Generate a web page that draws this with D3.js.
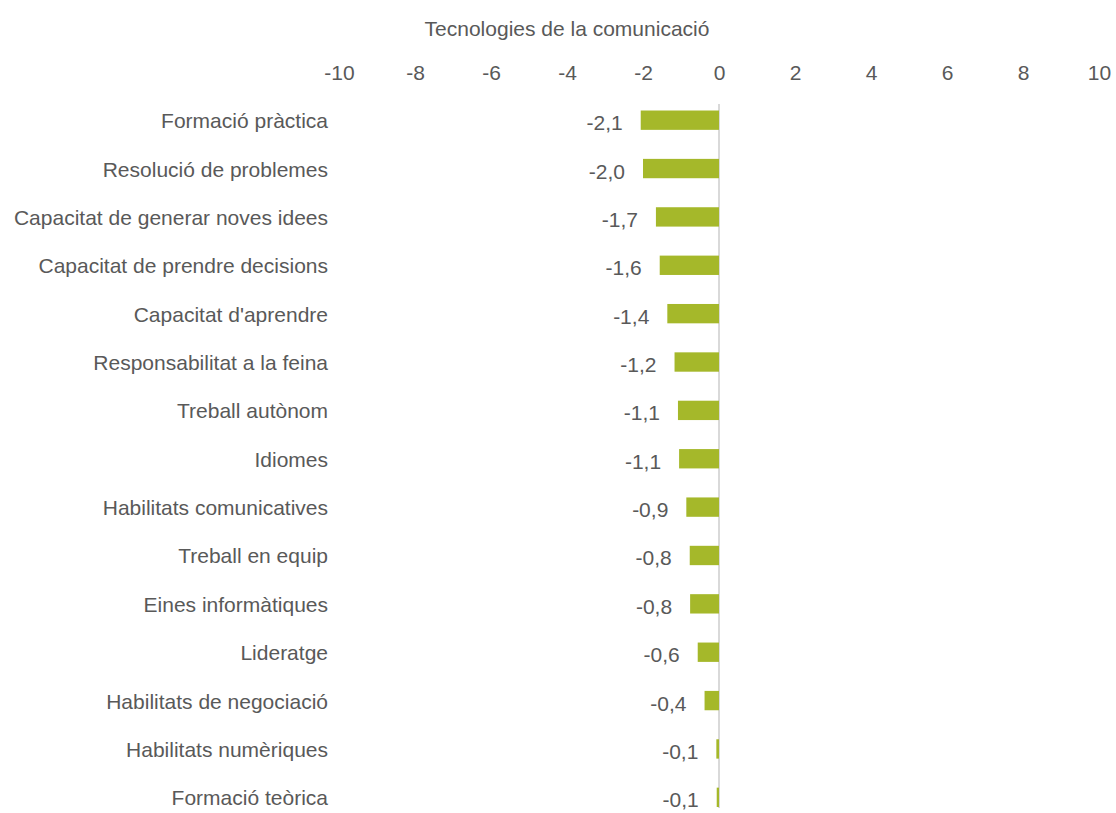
<!DOCTYPE html>
<html lang="ca">
<head>
  <meta charset="UTF-8">
  <title>Tecnologies de la comunicació</title>
  <style>
    body { margin: 0; background: #fff; }
    svg text { font-family: "Liberation Sans", Arial, sans-serif; fill: #595959; }
  </style>
</head>
<body>
  <div id="chart"></div>
  <script src="https://d3js.org/d3.v7.min.js"></script>
  <script>
    const categories = [
      'Formació pràctica',
      'Resolució de problemes',
      'Capacitat de generar noves idees',
      'Capacitat de prendre decisions',
      "Capacitat d'aprendre",
      'Responsabilitat a la feina',
      'Treball autònom',
      'Idiomes',
      'Habilitats comunicatives',
      'Treball en equip',
      'Eines informàtiques',
      'Lideratge',
      'Habilitats de negociació',
      'Habilitats numèriques',
      'Formació teòrica'
    ];
    const values = [-2.06, -2.0, -1.66, -1.56, -1.36, -1.17, -1.08, -1.05, -0.86, -0.77, -0.76, -0.56, -0.38, -0.07, -0.06];
    const xTicks = [-10, -8, -6, -4, -2, 0, 2, 4, 6, 8, 10];
    const title = 'Tecnologies de la comunicació';

    const WIDTH = 1116;
    const HEIGHT = 813;
    const FONT = 21;
    const margin = {top: 96, left: 339};

    const svg = d3.select('#chart').append('svg')
      .attr('width', WIDTH)
      .attr('height', HEIGHT);

    const xScale = d3.scaleLinear().domain([-10, 10]).range([0, 760]);
    const yScale = d3.scaleBand()
      .domain(categories)
      .range([0, 725.5])
      .paddingInner(0.6)
      .paddingOuter(0.3);

    const g = svg.append('g').attr('transform', `translate(${margin.left},${margin.top})`);

    // title
    svg.append('text')
      .attr('x', 567)
      .attr('y', 36)
      .attr('text-anchor', 'middle')
      .attr('font-size', FONT)
      .text(title);

    // top axis, labels only
    const xAxis = d3.axisTop(xScale).tickValues(xTicks).tickSize(0).tickPadding(0)
      .tickFormat(d => String(d));
    const axisG = g.append('g').attr('transform', 'translate(0,-16)').call(xAxis);
    axisG.select('.domain').remove();
    axisG.attr('font-size', null).attr('font-family', null);
    axisG.selectAll('text')
      .attr('font-size', FONT)
      .attr('fill', '#595959');

    // zero line
    g.append('line')
      .attr('x1', xScale(0)).attr('x2', xScale(0))
      .attr('y1', 8).attr('y2', 712)
      .attr('stroke', '#d9d9d9')
      .attr('stroke-width', 2);

    // bars
    g.selectAll('rect.bar')
      .data(values)
      .enter()
      .append('rect')
      .attr('class', 'bar')
      .attr('x', d => xScale(Math.min(0, d)))
      .attr('width', d => Math.abs(xScale(d) - xScale(0)))
      .attr('y', (d, i) => yScale(categories[i]))
      .attr('height', yScale.bandwidth())
      .attr('fill', '#a5b82a');

    // value labels
    g.selectAll('text.val')
      .data(values)
      .enter()
      .append('text')
      .attr('class', 'val')
      .attr('x', d => xScale(d) - 18)
      .attr('y', (d, i) => yScale(categories[i]) + yScale.bandwidth() / 2 + 10)
      .attr('text-anchor', 'end')
      .attr('font-size', FONT)
      .text(d => d.toFixed(1).replace('.', ','));

    // category labels
    g.selectAll('text.cat')
      .data(categories)
      .enter()
      .append('text')
      .attr('class', 'cat')
      .attr('x', -11)
      .attr('y', d => yScale(d) + yScale.bandwidth() / 2 + 8)
      .attr('text-anchor', 'end')
      .attr('font-size', FONT)
      .text(d => d);
  </script>
</body>
</html>
